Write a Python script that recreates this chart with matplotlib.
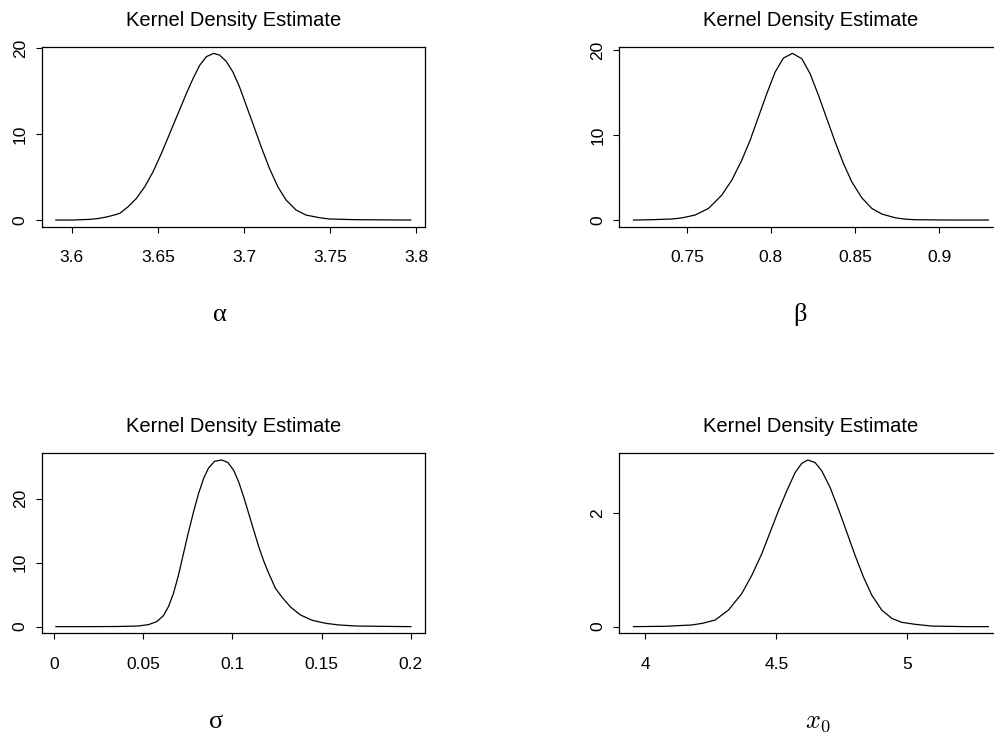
import matplotlib
matplotlib.use('Agg')
import matplotlib.pyplot as plt

# points
alpha_x = [3.5909, 3.6009, 3.6106, 3.6155, 3.6202, 3.6241,
           3.62795, 3.63277, 3.63760, 3.64242, 3.64724, 3.65207, 3.65689, 3.66171, 3.66653,
           3.67039, 3.67425, 3.67811, 3.68235, 3.68582, 3.68968, 3.69354, 3.69740, 3.70126,
           3.70512, 3.70994, 3.71476, 3.71958, 3.72440, 3.73019, 3.73597, 3.74369,
           3.7495, 3.7649, 3.7967]
alpha_y = [0.0, 0.0, 0.08, 0.18, 0.35, 0.55,
           0.78, 1.55, 2.52, 3.88, 5.62, 7.75, 10.08, 12.40, 14.73,
           16.47, 18.02, 19.03, 19.42, 19.22, 18.49, 17.25, 15.50, 13.37,
           11.24, 8.53, 6.01, 3.88, 2.33, 1.16, 0.58, 0.27,
           0.12, 0.04, 0.0]

beta_x = [0.71827, 0.72917, 0.74106, 0.74700,
          0.75493, 0.76286, 0.77079, 0.77673, 0.78268, 0.78763, 0.79259, 0.79754, 0.80250,
          0.80745, 0.81280, 0.81836, 0.82331, 0.82826, 0.83322, 0.83817, 0.84312, 0.84808,
          0.85402, 0.85997, 0.86592, 0.87384,
          0.8800, 0.88573, 0.90555, 0.92933]
beta_y = [0.0, 0.04, 0.12, 0.25,
          0.59, 1.37, 2.94, 4.71, 7.06, 9.41, 12.16, 14.90, 17.45,
          19.10, 19.65, 19.02, 17.25, 14.71, 11.96, 9.22, 6.67, 4.51,
          2.63, 1.37, 0.71, 0.27,
          0.10, 0.04, 0.0, 0.0]

sigma_x = [0.001, 0.0191, 0.0350,
           0.04724, 0.05287, 0.05755, 0.06130, 0.06412, 0.06693, 0.06974, 0.07255, 0.07537,
           0.07818, 0.08099, 0.08380, 0.08661, 0.08999, 0.09411, 0.09749, 0.10067, 0.10349,
           0.10630, 0.10911, 0.11192, 0.11474, 0.11755, 0.12036, 0.12411, 0.12786, 0.13255,
           0.13817, 0.14473, 0.15223, 0.15973,
           0.1691, 0.1822, 0.2000]
sigma_y = [0.0, 0.0, 0.02,
           0.10, 0.31, 0.78, 1.72, 3.13, 5.21, 8.07, 11.46, 14.84,
           17.97, 20.83, 23.18, 24.84, 25.89, 26.09, 25.68, 24.48, 22.66,
           20.31, 17.71, 15.10, 12.50, 10.26, 8.33, 5.99, 4.58, 3.07,
           1.82, 0.99, 0.52, 0.26,
           0.10, 0.05, 0.0]

x0_x = [3.9555, 4.0762, 4.1779, 4.2200,
        4.26688, 4.31771, 4.36854, 4.40667, 4.44479, 4.47655, 4.50832, 4.54010, 4.57186,
        4.59729, 4.62016, 4.64812, 4.67354, 4.70530, 4.73706, 4.76884, 4.80061, 4.83237,
        4.86414, 4.90226, 4.94039, 4.97851, 5.02935,
        5.0929, 5.2200, 5.3089]
x0_y = [0.0, 0.006, 0.029, 0.06,
        0.117, 0.292, 0.585, 0.906, 1.287, 1.667, 2.047, 2.398, 2.719,
        2.883, 2.942, 2.895, 2.749, 2.456, 2.076, 1.667, 1.257, 0.877,
        0.556, 0.292, 0.146, 0.076, 0.041,
        0.01, 0.0, 0.0]

alpha_ticks = [3.6, 3.65, 3.7, 3.75, 3.8]
alpha_labels = ['3.6', '3.65', '3.7', '3.75', '3.8']
beta_ticks = [0.75, 0.8, 0.85, 0.9]
beta_labels = ['0.75', '0.8', '0.85', '0.9']
sigma_ticks = [0, 0.05, 0.1, 0.15, 0.2]
sigma_labels = ['0', '0.05', '0.1', '0.15', '0.2']
x0_ticks = [4, 4.5, 5]
x0_labels = ['4', '4.5', '5']

dens_ticks = [0, 10, 20]
x0_dens_ticks = [0, 2]

plt.rcParams['font.family'] = ['Liberation Sans', 'DejaVu Sans']
plt.rcParams['mathtext.fontset'] = 'cm'

fig = plt.figure(figsize=(9.95, 7.4), dpi=100)


def kde_panel(rect, xs, ys, xticks, xlabels, yticks, name, name_x, serif=True):
    ax = fig.add_axes(rect)
    ax.plot(xs, ys, color='black', linewidth=0.9)
    # R style: 4% padding round the data
    ax.margins(0.04)
    ax.set_xticks(xticks, xlabels)
    ax.set_yticks(yticks, [str(t) for t in yticks], rotation=90, va='center')
    ax.tick_params(direction='out', length=4, width=0.8, labelsize=12.5, colors='black')
    ax.tick_params(axis='x', pad=13)
    ax.tick_params(axis='y', pad=6)
    for s in ax.spines.values():
        s.set_linewidth(0.9)
    ax.set_title('Kernel Density Estimate', fontsize=14.5, pad=15)
    if serif:
        ax.text(name_x, -0.49, name, transform=ax.transAxes, ha='center', va='center',
                fontsize=19, family=['Liberation Serif', 'DejaVu Serif'])
    else:
        ax.text(name_x, -0.49, name, transform=ax.transAxes, ha='center', va='center',
                fontsize=19)
    return ax


w = 383.3 / 995
h = 180 / 740
left_a = 41.7 / 995
left_b = 619.3 / 995
top_row = 1 - 226.7 / 740
bot_row = 1 - 633.3 / 740

kde_panel([left_a, top_row, w, h], alpha_x, alpha_y, alpha_ticks, alpha_labels, dens_ticks, 'α', 0.465)
kde_panel([left_b, top_row, w, h], beta_x, beta_y, beta_ticks, beta_labels, dens_ticks, 'β', 0.471)
kde_panel([left_a, bot_row, w, h], sigma_x, sigma_y, sigma_ticks, sigma_labels, dens_ticks, 'σ', 0.456)
kde_panel([left_b, bot_row, w, h], x0_x, x0_y, x0_ticks, x0_labels, x0_dens_ticks, r'$x_0$', 0.518, serif=False)

fig.savefig('out.png', dpi=100)
